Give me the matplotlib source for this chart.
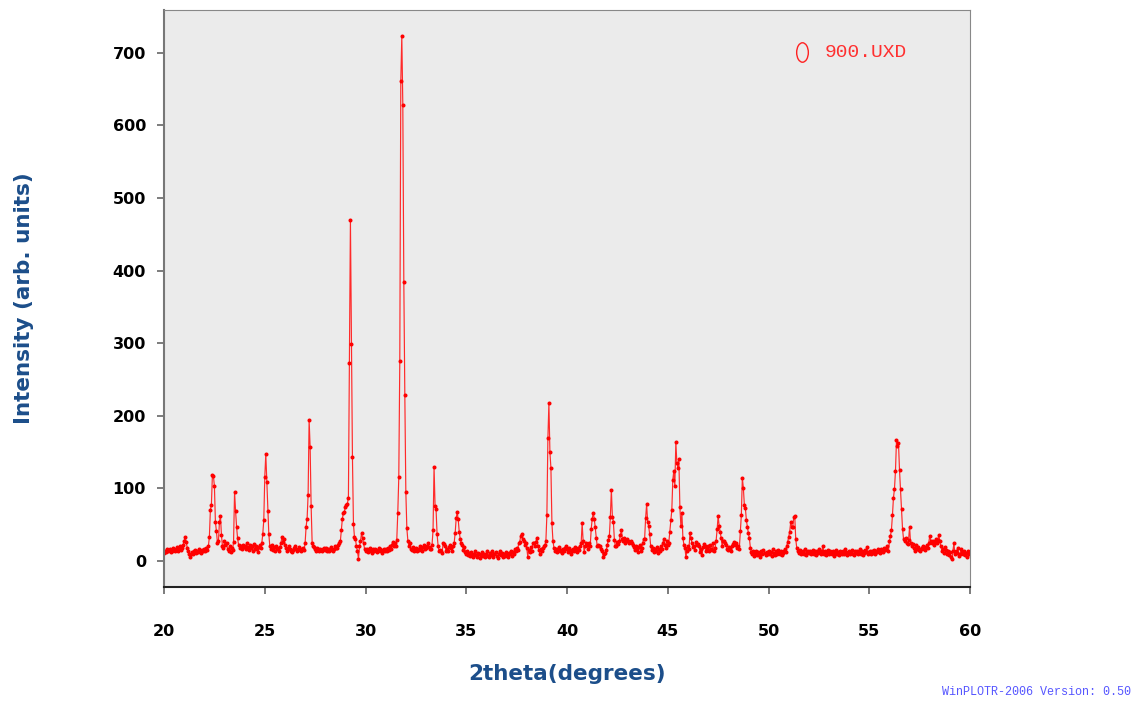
import matplotlib
matplotlib.use('Agg')
import matplotlib.pyplot as plt
import matplotlib.transforms as mtransforms
from matplotlib.path import Path
import numpy as np

# measured pattern: 2theta from 20 to 60 deg, step 0.05 deg
two_theta_start = 20.0
two_theta_step = 0.05

# intensity, one row per degree (20 points each), last value at 60.00
counts = [
    11, 14, 12, 16, 13, 15, 17, 12, 14, 18, 15, 13, 16, 19, 14, 17, 20, 15, 18, 22,  # 20
    28, 33, 26, 18, 14, 10, 6, 9, 12, 10, 13, 15, 11, 14, 12, 16, 13, 11, 15, 14,  # 21
    16, 13, 18, 15, 20, 33, 70, 77, 118, 117, 103, 53, 41, 25, 27, 54, 62, 35, 20, 18,  # 22
    28, 22, 24, 17, 14, 20, 12, 18, 15, 26, 95, 69, 47, 31, 22, 18, 20, 16, 22, 19,  # 23
    21, 17, 24, 19, 15, 22, 18, 20, 14, 23, 17, 21, 16, 12, 19, 22, 18, 24, 37, 56,  # 24
    116, 147, 109, 69, 37, 20, 17, 22, 15, 19, 14, 21, 18, 16, 13, 19, 24, 33, 26, 30,  # 25
    22, 18, 13, 16, 20, 17, 14, 12, 15, 18, 21, 16, 13, 15, 19, 17, 14, 16, 18, 15,  # 26
    24, 47, 58, 91, 194, 157, 75, 25, 21, 19, 17, 14, 18, 16, 13, 17, 15, 14, 16, 18,  # 27
    15, 18, 14, 17, 13, 16, 19, 15, 14, 17, 20, 18, 18, 22, 25, 27, 43, 58, 66, 68,  # 28
    74, 77, 79, 87, 273, 469, 299, 143, 51, 33, 30, 20, 13, 3, 20, 27, 38, 32, 24, 17,  # 29
    13, 16, 12, 15, 18, 14, 11, 16, 13, 17, 15, 12, 14, 18, 16, 13, 11, 15, 17, 14,  # 30
    16, 13, 18, 15, 20, 17, 22, 26, 21, 24, 20, 29, 66, 115, 275, 661, 723, 628, 384, 228,  # 31
    95, 45, 28, 20, 24, 17, 15, 19, 14, 16, 18, 13, 17, 15, 20, 16, 14, 19, 22, 17,  # 32
    18, 21, 24, 19, 17, 16, 22, 42, 130, 76, 71, 37, 21, 13, 15, 14, 11, 24, 23, 20,  # 33
    14, 17, 14, 19, 22, 18, 14, 20, 25, 39, 59, 67, 57, 40, 30, 25, 22, 15, 19, 12,  # 34
    10, 13, 8, 11, 7, 12, 9, 5, 10, 14, 8, 6, 11, 9, 4, 8, 12, 7, 10, 6,  # 35
    9, 13, 7, 5, 11, 8, 14, 6, 10, 12, 7, 4, 9, 13, 8, 11, 5, 10, 7, 12,  # 36
    8, 6, 11, 9, 14, 7, 12, 10, 16, 13, 18, 15, 24, 26, 34, 37, 30, 28, 22, 25,  # 37
    18, 6, 15, 12, 19, 14, 24, 25, 20, 26, 32, 21, 15, 10, 16, 13, 18, 20, 22, 27,  # 38
    63, 169, 217, 150, 128, 52, 28, 18, 14, 17, 12, 16, 19, 13, 15, 11, 17, 14, 18, 20,  # 39
    16, 12, 18, 15, 9, 14, 17, 13, 19, 16, 12, 18, 15, 20, 24, 52, 27, 12, 20, 25,  # 40
    22, 16, 24, 20, 44, 58, 66, 58, 46, 32, 20, 22, 20, 21, 17, 13, 6, 9, 11, 15,  # 41
    22, 29, 34, 61, 98, 61, 54, 29, 20, 21, 26, 23, 28, 36, 43, 30, 27, 31, 25, 28,  # 42
    30, 27, 24, 28, 25, 22, 19, 15, 21, 17, 12, 19, 22, 14, 18, 24, 30, 30, 59, 78,  # 43
    54, 48, 37, 21, 15, 18, 12, 17, 13, 19, 11, 16, 14, 20, 17, 24, 30, 22, 18, 27,  # 44
    22, 25, 40, 56, 70, 112, 124, 103, 164, 135, 128, 140, 74, 48, 66, 32, 22, 18, 5, 14,  # 45
    20, 16, 38, 32, 24, 19, 21, 15, 26, 22, 23, 20, 12, 16, 8, 19, 23, 21, 13, 17,  # 46
    20, 14, 22, 17, 15, 24, 13, 18, 28, 44, 62, 48, 40, 31, 20, 28, 28, 24, 22, 16,  # 47
    15, 19, 17, 14, 20, 23, 26, 22, 24, 18, 20, 17, 41, 63, 114, 101, 77, 73, 56, 47,  # 48
    38, 31, 18, 12, 9, 13, 7, 11, 14, 8, 12, 10, 6, 13, 9, 15, 11, 8, 12, 10,  # 49
    14, 9, 12, 7, 16, 11, 8, 13, 10, 15, 12, 9, 14, 8, 11, 13, 16, 12, 20, 26,  # 50
    33, 40, 53, 47, 46, 60, 62, 30, 18, 14, 11, 15, 9, 12, 13, 10, 16, 8, 12, 14,  # 51
    11, 13, 9, 12, 15, 10, 14, 8, 13, 11, 16, 12, 9, 14, 21, 10, 13, 8, 12, 15,  # 52
    10, 14, 12, 9, 13, 7, 11, 15, 10, 12, 8, 14, 11, 9, 13, 10, 16, 12, 8, 11,  # 53
    13, 9, 12, 15, 10, 8, 14, 11, 13, 9, 12, 16, 10, 13, 8, 11, 15, 12, 19, 10,  # 54
    12, 14, 9, 13, 11, 15, 10, 14, 12, 16, 13, 11, 17, 14, 12, 18, 15, 16, 20, 13,  # 55
    27, 34, 43, 63, 87, 99, 124, 166, 158, 162, 125, 99, 71, 44, 30, 27, 32, 25, 23, 29,  # 56
    47, 24, 20, 23, 18, 13, 22, 17, 19, 15, 14, 16, 18, 21, 17, 15, 19, 22, 18, 25,  # 57
    34, 28, 25, 27, 22, 26, 30, 24, 29, 36, 27, 20, 14, 16, 11, 19, 15, 10, 13, 8,  # 58
    12, 5, 2, 14, 24, 9, 13, 11, 18, 7, 10, 16, 12, 9, 14, 8, 11, 6, 13, 10,  # 59
    12,  # 60
]

x_ticks = [20, 25, 30, 35, 40, 45, 50, 55, 60]
y_ticks = [0, 100, 200, 300, 400, 500, 600, 700]
file_label = '900.UXD'
credit = 'WinPLOTR-2006 Version: 0.50'

two_theta = two_theta_start + two_theta_step * np.arange(len(counts))

fig = plt.figure(figsize=(11.36, 7.04), dpi=100)
ax = fig.add_axes([0.1444, 0.1662, 0.7095, 0.8196])
ax.set_facecolor('#ebebeb')

ax.plot(two_theta, counts, color='#ff2a2a', lw=0.85, marker='o', ms=1.9,
        mfc='#ff0000', mec='#ff0000')

ax.set_xlim(20, 60)
ax.set_ylim(-36, 759)
ax.set_xticks(x_ticks)
ax.set_yticks(y_ticks)

ax.tick_params(axis='both', direction='out', length=5, width=1.2,
               color='#666666', labelsize=11.5)
ax.tick_params(axis='x', pad=22)
ax.tick_params(axis='y', pad=8)
for lab in ax.get_xticklabels() + ax.get_yticklabels():
    lab.set_fontweight('bold')
    lab.set_fontfamily('DejaVu Sans')

for side in ['top', 'right']:
    ax.spines[side].set_color('#888888')
    ax.spines[side].set_linewidth(0.8)
ax.spines['left'].set_color('#777777')
ax.spines['left'].set_linewidth(1.5)
ax.spines['bottom'].set_color('#222222')
ax.spines['bottom'].set_linewidth(1.5)

label_color = '#1c4e8a'
ax.set_xlabel('2theta(degrees)', fontsize=15.5, fontweight='bold',
              color=label_color, family='DejaVu Sans', labelpad=18)
ax.set_ylabel('Intensity (arb. units)', fontsize=15.5, fontweight='bold',
              color=label_color, family='DejaVu Sans')
ax.yaxis.set_label_coords(-0.161, 0.5)

# file legend: tall open oval and file name
oval = Path.unit_circle().transformed(mtransforms.Affine2D().scale(0.6, 1.0))
ax.plot([0.791], [0.927], transform=ax.transAxes, ls='none', marker=oval,
        ms=14, mfc='none', mec='#ff2020', mew=1.0, clip_on=False)
ax.text(0.82, 0.927, file_label, transform=ax.transAxes, color='#ff3030',
        fontsize=14, family='Liberation Mono', va='center', ha='left')

fig.text(0.996, 0.017, credit, color='#5555ff', fontsize=8.5,
         family='Liberation Mono', ha='right', va='center')

fig.savefig('out.png', dpi=100)
